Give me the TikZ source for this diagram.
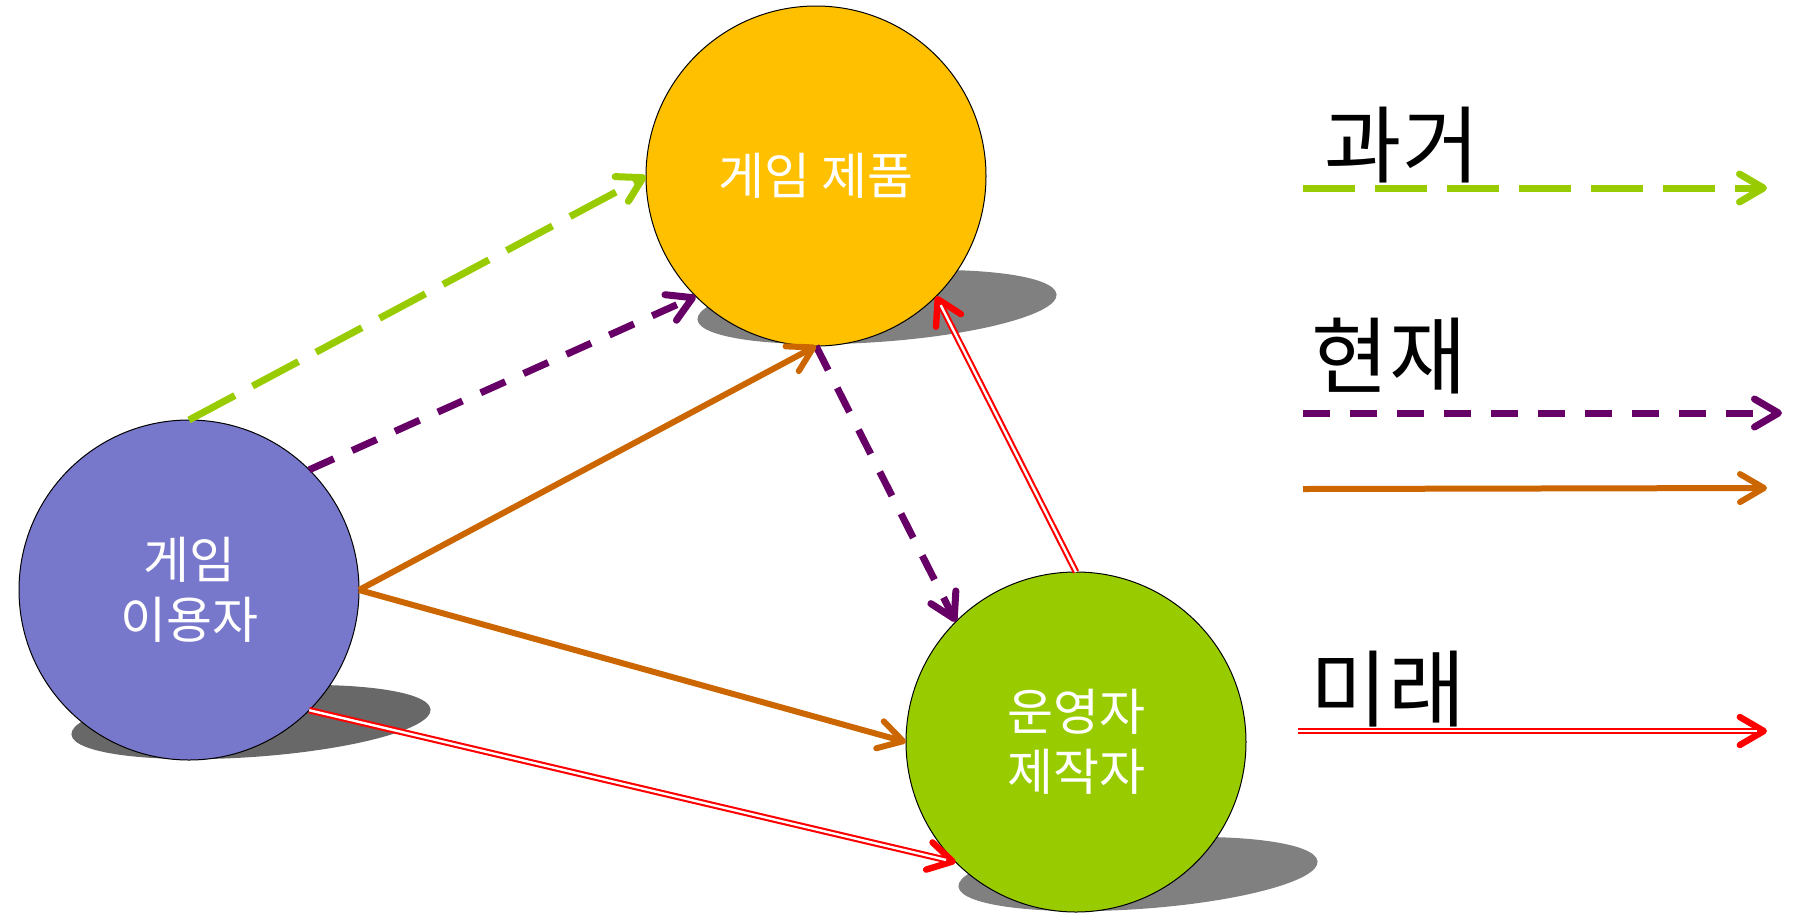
\documentclass[tikz,border=0pt]{standalone}
\usepackage{fontspec}
\newfontfamily\kr{Noto Sans CJK KR}
\usetikzlibrary{arrows.meta}
\definecolor{cgreen}{HTML}{99CC00}
\definecolor{cpurple}{HTML}{660066}
\definecolor{corange}{HTML}{CC6600}
\definecolor{cred}{HTML}{FF0000}
\definecolor{cblue}{HTML}{7777CC}
\definecolor{cyellow}{HTML}{FFC000}
\definecolor{shadowA}{HTML}{686868}
\definecolor{shadowB}{HTML}{808080}
\tikzset{
  ball/.style={circle, draw=black, line width=0.5pt, minimum size=170pt, inner sep=0pt, outer sep=0pt,
    text=white, font=\kr\fontsize{25}{30}\selectfont, align=center},
  legendtext/.style={inner sep=0pt, font=\kr\fontsize{42}{42}\selectfont, text=black},
  chev/.style={-{Straight Barb[length=12pt, width=14pt, line cap=round, line join=round]}},
  past/.style={cgreen, line width=3.5pt, dash pattern=on 26pt off 10pt, chev},
  present/.style={cpurple, line width=3.5pt, dash pattern=on 13.5pt off 10pt, chev},
  nowline/.style={corange, line width=3pt, chev},
  futureouter/.style={cred, line width=3.3pt, -{Straight Barb[length=12pt, width=14pt, line cap=round, line join=round, line width=3.2pt]}},
  futureinner/.style={white, line width=1.2pt, shorten >=5pt},
}
\begin{document}
\begin{tikzpicture}[x=0.5pt, y=-0.5pt]
\useasboundingbox (0,0) rectangle (1795,912);
% shadows
\fill[shadowA, rotate around={4:(251,722)}] (251,722) ellipse [x radius=180, y radius=35];
\fill[shadowB, rotate around={4:(877,307)}] (877,307) ellipse [x radius=180, y radius=35];
\fill[shadowB, rotate around={4:(1138,874)}] (1138,874) ellipse [x radius=180, y radius=35];
% circles
\node[ball, fill=cblue] (c1) at (189,590) {게임\\이용자};
\node[ball, fill=cyellow] (c2) at (816,176) {게임 제품};
\node[ball, fill=cgreen] (c3) at (1076,742) {운영자\\제작자};
% connectors
\draw[past] (c1.north) -- (c2.west);
\draw[present] (c1.45) -- (c2.225);
\draw[present] (c2.south) -- (c3.135);
\draw[nowline] (c1.east) -- (c2.south);
\draw[nowline] (c1.east) -- (c3.west);
\draw[futureouter] (c1.-45) -- (c3.225);
\draw[futureinner] (c1.-45) -- (c3.225);
\draw[futureouter] (c3.north) -- (c2.-45);
\draw[futureinner] (c3.north) -- (c2.-45);
% legend
\node[legendtext] (tpast) at (1402,145) {과거};
\node[legendtext] (tpresent) at (1389,356) {현재};
\node[legendtext] (tfuture) at (1388,689) {미래};
\coordinate (g1) at (1303,188);
\coordinate (g2) at (1767,188);
\coordinate (p1) at (1303,413);
\coordinate (p2) at (1782,413);
\coordinate (o1) at (1303,489);
\coordinate (o2) at (1767,488);
\coordinate (r1) at (1298,731);
\coordinate (r2) at (1767,731);
\draw[past] (g1) -- (g2);
\draw[present] (p1) -- (p2);
\draw[nowline] (o1) -- (o2);
\draw[futureouter] (r1) -- (r2);
\draw[futureinner] (r1) -- (r2);
\end{tikzpicture}
\end{document}
